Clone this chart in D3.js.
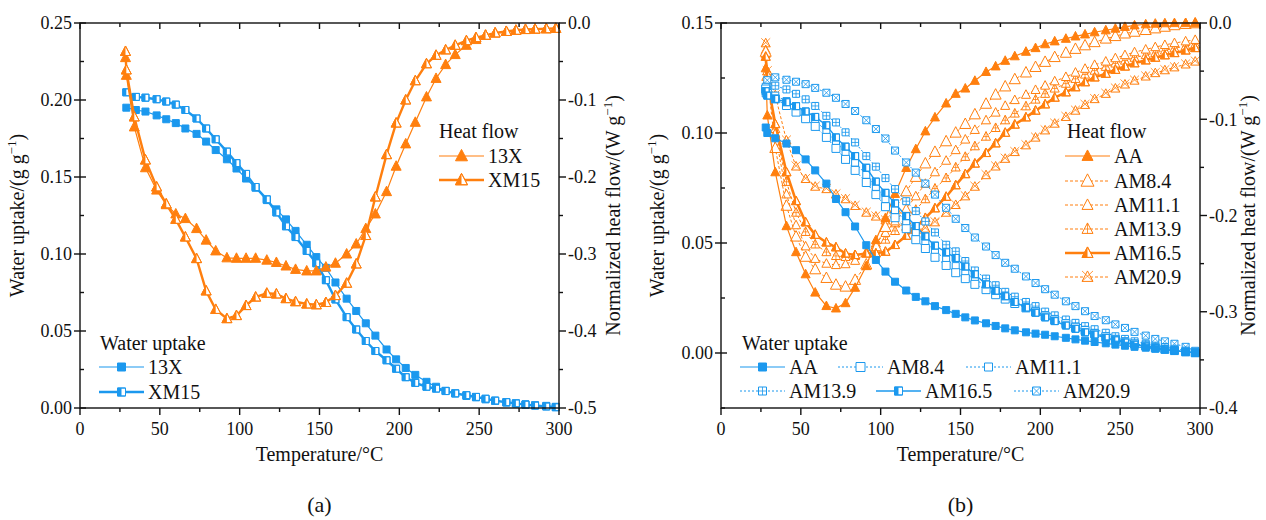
<!DOCTYPE html>
<html>
<head>
<meta charset="utf-8">
<script src="https://cdn.jsdelivr.net/npm/d3@7"></script>
<style>
  body { margin: 0; background: #fff; }
  svg, text { font-family: "Liberation Serif", "DejaVu Serif", serif; }
  text { fill: #111; }
</style>
</head>
<body>
<svg id="chart" width="1266" height="520" font-family="Liberation Serif, DejaVu Serif, serif"></svg>
<script>
// ---------- panel (a): 13X / XM15 ----------
var tempA = [29, 35, 41, 48, 54, 60, 66, 73, 79, 85, 92, 98, 104, 110, 117, 123, 129, 135, 142, 148, 154, 160, 167, 173, 179, 185, 192, 198, 204, 210, 217, 223, 229, 235, 242, 248, 254, 260, 267, 273, 279, 285, 292, 298];
var waterA_13X = [0.195, 0.1935, 0.1925, 0.190, 0.1875, 0.185, 0.1815, 0.178, 0.173, 0.1675, 0.1615, 0.1555, 0.149, 0.143, 0.135, 0.129, 0.1225, 0.115, 0.106, 0.098, 0.091, 0.0815, 0.071, 0.063, 0.055, 0.047, 0.038, 0.0316, 0.026, 0.0215, 0.017, 0.0138, 0.0112, 0.0095, 0.0078, 0.0069, 0.0056, 0.0046, 0.0035, 0.003, 0.0024, 0.0018, 0.0014, 0.0008];
var waterA_XM15 = [0.205, 0.202, 0.2015, 0.2005, 0.199, 0.197, 0.1935, 0.188, 0.1815, 0.1745, 0.1665, 0.159, 0.152, 0.1435, 0.1355, 0.127, 0.118, 0.111, 0.102, 0.094, 0.083, 0.0705, 0.059, 0.051, 0.0435, 0.037, 0.031, 0.0255, 0.020, 0.0163, 0.0138, 0.0126, 0.011, 0.0095, 0.0083, 0.0072, 0.006, 0.0048, 0.0038, 0.003, 0.0022, 0.0016, 0.001, 0.0005];

var tempAHeat = [28.5, 29, 34, 41, 48, 54, 60, 66, 73, 79, 85, 92, 98, 104, 110, 117, 123, 129, 135, 142, 148, 154, 160, 167, 173, 179, 185, 192, 198, 204, 210, 217, 223, 229, 235, 242, 248, 254, 260, 267, 273, 279, 285, 292, 298];
var heatA_13X = [-0.045, -0.068, -0.135, -0.188, -0.217, -0.236, -0.248, -0.254, -0.267, -0.282, -0.296, -0.305, -0.3056, -0.3056, -0.3056, -0.308, -0.311, -0.3156, -0.32, -0.322, -0.322, -0.317, -0.312, -0.300, -0.287, -0.267, -0.248, -0.219, -0.186, -0.157, -0.129, -0.096, -0.072, -0.054, -0.041, -0.029, -0.0215, -0.016, -0.013, -0.011, -0.0095, -0.0085, -0.008, -0.0075, -0.007];
var heatA_XM15 = [-0.037, -0.061, -0.122, -0.178, -0.213, -0.235, -0.255, -0.278, -0.306, -0.348, -0.372, -0.384, -0.380, -0.367, -0.356, -0.351, -0.352, -0.358, -0.362, -0.365, -0.366, -0.363, -0.354, -0.338, -0.313, -0.276, -0.226, -0.171, -0.130, -0.100, -0.075, -0.053, -0.042, -0.035, -0.029, -0.023, -0.019, -0.016, -0.013, -0.011, -0.0095, -0.0085, -0.008, -0.0075, -0.007];

// ---------- panel (b): AA / AM series ----------
var tempB = [28, 29, 34, 41, 47, 53, 59, 66, 72, 78, 84, 91, 97, 103, 109, 116, 122, 128, 134, 141, 147, 153, 159, 166, 172, 178, 184, 191, 197, 203, 209, 216, 222, 228, 234, 241, 247, 253, 259, 266, 272, 278, 284, 291, 297];
var waterB_AA = [0.1025, 0.100, 0.0976, 0.0952, 0.0922, 0.088, 0.083, 0.077, 0.070, 0.064, 0.0575, 0.049, 0.0423, 0.037, 0.0324, 0.0284, 0.0255, 0.0235, 0.0213, 0.0195, 0.0178, 0.0162, 0.0148, 0.0135, 0.0123, 0.0112, 0.0103, 0.0094, 0.0088, 0.0083, 0.0076, 0.0069, 0.0062, 0.0056, 0.005, 0.0044, 0.0038, 0.0033, 0.0028, 0.0024, 0.0019, 0.0015, 0.001, 0.0005, 0.0];
var waterB_AM84 = [0.12, 0.118, 0.1155, 0.1125, 0.1095, 0.1065, 0.103, 0.098, 0.093, 0.088, 0.083, 0.0775, 0.072, 0.0665, 0.0615, 0.0565, 0.0515, 0.0475, 0.0435, 0.0398, 0.0365, 0.0338, 0.0312, 0.0288, 0.0265, 0.0245, 0.0225, 0.0205, 0.0187, 0.0168, 0.015, 0.0133, 0.0117, 0.0102, 0.0088, 0.0074, 0.0062, 0.0051, 0.0041, 0.0032, 0.0024, 0.0017, 0.0011, 0.0005, 0.0001];
var waterB_AM111 = [0.121, 0.119, 0.117, 0.1145, 0.112, 0.109, 0.1055, 0.101, 0.096, 0.091, 0.0865, 0.081, 0.0755, 0.070, 0.065, 0.0595, 0.0548, 0.0505, 0.0463, 0.0425, 0.0395, 0.0365, 0.0335, 0.0305, 0.0278, 0.0255, 0.0232, 0.021, 0.019, 0.017, 0.0152, 0.0134, 0.0118, 0.0103, 0.009, 0.0076, 0.0064, 0.0053, 0.0043, 0.0034, 0.0026, 0.0019, 0.0012, 0.0006, 0.0002];
var waterB_AM139 = [0.118, 0.121, 0.1215, 0.1198, 0.1178, 0.1153, 0.1123, 0.1078, 0.1048, 0.1003, 0.0957, 0.0895, 0.0847, 0.0795, 0.0745, 0.069, 0.0645, 0.0598, 0.0548, 0.0492, 0.0462, 0.0418, 0.0375, 0.0338, 0.0308, 0.0278, 0.0256, 0.0232, 0.0213, 0.0188, 0.0171, 0.0152, 0.0137, 0.0122, 0.0108, 0.0092, 0.0076, 0.0064, 0.0053, 0.0042, 0.0033, 0.0027, 0.0019, 0.0011, 0.0005];
var waterB_AM165 = [0.119, 0.117, 0.1155, 0.114, 0.1122, 0.1098, 0.1073, 0.1035, 0.098, 0.0938, 0.0895, 0.0842, 0.0779, 0.0728, 0.068, 0.0622, 0.0577, 0.053, 0.0488, 0.0458, 0.0432, 0.0393, 0.0358, 0.0312, 0.0283, 0.0258, 0.0232, 0.0206, 0.0183, 0.0162, 0.0145, 0.0125, 0.011, 0.0094, 0.0084, 0.0069, 0.0058, 0.0048, 0.0038, 0.003, 0.0023, 0.0017, 0.0011, 0.0005, 0.0001];
var waterB_AM209 = [0.120, 0.124, 0.1253, 0.1242, 0.1233, 0.1222, 0.1205, 0.1183, 0.116, 0.1132, 0.110, 0.1058, 0.1018, 0.0975, 0.092, 0.0866, 0.082, 0.077, 0.072, 0.066, 0.061, 0.0568, 0.0525, 0.0484, 0.0445, 0.041, 0.0383, 0.0348, 0.0318, 0.029, 0.0265, 0.0235, 0.0213, 0.019, 0.0168, 0.0149, 0.013, 0.0114, 0.0096, 0.0079, 0.0064, 0.0053, 0.0042, 0.0028, 0.001];

var heatB_AA = [-0.047, -0.096, -0.155, -0.211, -0.238, -0.261, -0.28, -0.294, -0.2965, -0.291, -0.275, -0.2525, -0.2255, -0.2025, -0.1775, -0.1505, -0.131, -0.1125, -0.098, -0.0835, -0.0735, -0.068, -0.060, -0.0508, -0.045, -0.0392, -0.0345, -0.0298, -0.026, -0.022, -0.019, -0.0163, -0.0139, -0.0118, -0.0096, -0.0075, -0.0058, -0.004, -0.0024, -0.0013, -0.0006, -0.0002, 0, 0, 0];
var heatB_AM84 = [-0.03, -0.055, -0.13, -0.19, -0.222, -0.243, -0.256, -0.265, -0.272, -0.274, -0.267, -0.251, -0.232, -0.212, -0.193, -0.175, -0.16, -0.146, -0.134, -0.123, -0.114, -0.105, -0.095, -0.084, -0.0745, -0.066, -0.0585, -0.0515, -0.0458, -0.0405, -0.0355, -0.031, -0.027, -0.0233, -0.02, -0.0163, -0.0137, -0.011, -0.0092, -0.0074, -0.0057, -0.004, -0.0024, -0.0011, -0.0004];
var heatB_AM111 = [-0.028, -0.05, -0.115, -0.178, -0.21, -0.232, -0.245, -0.25, -0.2514, -0.2505, -0.247, -0.239, -0.229, -0.218, -0.206, -0.193, -0.18, -0.167, -0.155, -0.143, -0.132, -0.121, -0.111, -0.101, -0.093, -0.086, -0.08, -0.0745, -0.0695, -0.065, -0.0605, -0.056, -0.0515, -0.0475, -0.0435, -0.04, -0.0365, -0.0333, -0.0303, -0.0275, -0.025, -0.0228, -0.0208, -0.019, -0.0175];
var heatB_AM139 = [-0.032, -0.055, -0.11, -0.165, -0.197, -0.217, -0.23, -0.238, -0.242, -0.243, -0.242, -0.238, -0.233, -0.225, -0.216, -0.205, -0.194, -0.183, -0.172, -0.161, -0.15, -0.139, -0.128, -0.118, -0.109, -0.101, -0.094, -0.0865, -0.0795, -0.0735, -0.068, -0.063, -0.058, -0.0535, -0.0495, -0.0455, -0.042, -0.039, -0.036, -0.0333, -0.031, -0.0285, -0.0262, -0.024, -0.022];
var heatB_AM165 = [-0.035, -0.06, -0.105, -0.155, -0.185, -0.207, -0.22, -0.228, -0.233, -0.2395, -0.241, -0.2395, -0.2393, -0.2376, -0.2306, -0.221, -0.2125, -0.2025, -0.1925, -0.1805, -0.1685, -0.157, -0.146, -0.135, -0.125, -0.114, -0.1055, -0.098, -0.091, -0.0845, -0.0775, -0.072, -0.0667, -0.0615, -0.0565, -0.0527, -0.0486, -0.0452, -0.0418, -0.0388, -0.036, -0.0335, -0.0312, -0.0285, -0.026];
var heatB_AM209 = [-0.021, -0.05, -0.075, -0.122, -0.149, -0.162, -0.170, -0.1725, -0.178, -0.183, -0.190, -0.197, -0.201, -0.205, -0.208, -0.2115, -0.215, -0.2135, -0.207, -0.197, -0.189, -0.180, -0.170, -0.158, -0.149, -0.141, -0.134, -0.127, -0.119, -0.1115, -0.1045, -0.0975, -0.091, -0.085, -0.079, -0.0735, -0.068, -0.0638, -0.0598, -0.0555, -0.052, -0.049, -0.046, -0.043, -0.040];

// tick values
var xTicks = [0, 50, 100, 150, 200, 250, 300];
var leftTicksA = [0, 0.05, 0.10, 0.15, 0.20, 0.25];
var rightTicksA = [0, -0.1, -0.2, -0.3, -0.4, -0.5];
var leftTicksB = [0, 0.05, 0.10, 0.15];
var rightTicksB = [0, -0.1, -0.2, -0.3, -0.4];

const blue = "#1b98ee";
const orange = "#ff7f0e";
const serif = "Liberation Serif, DejaVu Serif, serif";

const svg = d3.select("#chart");

// draw one marker at (px,py)
function marker(g, px, py, shape, mode, size, color) {
  var s = size / 2;
  var m = g.append("g").attr("transform", "translate(" + px + "," + py + ")");
  var top, bot;
  var outline;
  if (shape === "square") {
    top = -s; bot = s;
    outline = "M" + (-s) + "," + (-s) + "H" + s + "V" + s + "H" + (-s) + "Z";
  } else {
    top = -s * 1.1; bot = s * 0.8;
    outline = "M0," + top + "L" + s + "," + bot + "L" + (-s) + "," + bot + "Z";
  }
  m.append("path").attr("d", outline)
    .attr("fill", mode === "filled" ? color : "#fff")
    .attr("stroke", color).attr("stroke-width", 1);
  if (mode === "half") {
    var halfPath = shape === "square"
      ? "M" + (-s) + "," + (-s) + "H0V" + s + "H" + (-s) + "Z"
      : "M0," + top + "L0," + bot + "L" + (-s) + "," + bot + "Z";
    m.append("path").attr("d", halfPath).attr("fill", color);
    m.append("path").attr("d", outline).attr("fill", "none").attr("stroke", color).attr("stroke-width", 1);
  }
  if (mode === "plus") {
    var hy = shape === "square" ? 0 : (top + bot) / 2 + s * 0.15;
    var hw = shape === "square" ? s : s * (hy - top) / (bot - top);
    m.append("path").attr("d", "M0," + top + "V" + bot + "M" + (-hw) + "," + hy + "H" + hw)
      .attr("stroke", color).attr("stroke-width", 0.8).attr("fill", "none");
  }
  if (mode === "cross") {
    m.append("path").attr("d", "M" + (-s) + "," + top + "L" + s + "," + bot + "M" + s + "," + top + "L" + (-s) + "," + bot)
      .attr("stroke", color).attr("stroke-width", 0.8).attr("fill", "none");
  }
}

function sampleLine(g, x1, x2, y, sr) {
  g.append("line").attr("x1", x1).attr("x2", x2).attr("y1", y).attr("y2", y)
    .attr("stroke", sr.color).attr("stroke-width", sr.width)
    .attr("stroke-dasharray", sr.dash || null);
  marker(g, (x1 + x2) / 2, y, sr.shape, sr.mode, sr.size + (sr.shape === "triangle" ? 2 : 1), sr.color);
}

function label(x, y, txt, size) {
  return svg.append("text").attr("x", x).attr("y", y)
    .attr("font-family", serif).attr("font-size", size).text(txt);
}

function drawPanel(p) {
  var x = d3.scaleLinear().domain([0, 300]).range([p.left, p.right]);
  var yL = d3.scaleLinear().domain(p.leftDomain).range([p.bottom, p.top]);
  var yR = d3.scaleLinear().domain(p.rightDomain).range([p.bottom, p.top]);
  var g = svg.append("g");

  // series: lines first, then markers
  p.series.forEach(function (sr) {
    var y = sr.axis === "L" ? yL : yR;
    var pts = sr.temps.map(function (t, i) { return [x(t), y(sr.values[i])]; });
    var sg = g.append("g");
    sg.append("path").attr("d", d3.line()(pts))
      .attr("fill", "none").attr("stroke", sr.color)
      .attr("stroke-width", sr.width).attr("stroke-dasharray", sr.dash || null);
    pts.forEach(function (pt) { marker(sg, pt[0], pt[1], sr.shape, sr.mode, sr.size, sr.color); });
  });

  var ax = svg.append("g").attr("stroke", "#111").attr("stroke-width", 1.4);
  // frame
  ax.append("rect").attr("x", p.left).attr("y", p.top)
    .attr("width", p.right - p.left).attr("height", p.bottom - p.top).attr("fill", "none");

  // x ticks (bottom outward, top inward)
  d3.range(0, 301, 25).forEach(function (v) {
    var major = v % 50 === 0;
    ax.append("line").attr("x1", x(v)).attr("x2", x(v))
      .attr("y1", p.bottom).attr("y2", p.bottom + (major ? 7 : 4));
    ax.append("line").attr("x1", x(v)).attr("x2", x(v))
      .attr("y1", p.top).attr("y2", p.top + (major ? 6 : 4));
  });
  xTicks.forEach(function (v) {
    label(x(v), p.bottom + 27, v, 18).attr("text-anchor", "middle");
  });

  // left axis ticks
  var lStep = 0.025;
  var lo = p.leftDomain[0], hi = p.leftDomain[1];
  for (var k = Math.round(lo / lStep); k <= Math.round(hi / lStep); k++) {
    var v = k * lStep;
    var major = k % 2 === 0;
    ax.append("line").attr("y1", yL(v)).attr("y2", yL(v))
      .attr("x1", p.left - (major ? 6 : 0)).attr("x2", p.left + (major ? 6 : 4));
  }
  p.leftTicks.forEach(function (v) {
    label(p.left - 8, yL(v), d3.format(".2f")(v), 18)
      .attr("dy", "0.35em").attr("text-anchor", "end");
  });

  // right axis ticks (outward)
  var rlo = p.rightDomain[0];
  for (var j = 0; j <= Math.round(-rlo / 0.05); j++) {
    var rv = -j * 0.05;
    ax.append("line").attr("y1", yR(rv)).attr("y2", yR(rv))
      .attr("x1", p.right).attr("x2", p.right + (j % 2 === 0 ? 7 : 4));
  }
  p.rightTicks.forEach(function (v) {
    label(p.right + 9, yR(v), v === 0 ? "0.0" : v.toFixed(1), 18).attr("dy", "0.35em");
  });

  // axis titles
  var cx = (p.left + p.right) / 2, cy = (p.top + p.bottom) / 2;
  label(cx, p.bottom + 53, "Temperature/\u00b0C", 20).attr("text-anchor", "middle");

  var lt = label(0, 0, null, 20)
    .attr("transform", "translate(" + p.leftTitleX + "," + cy + ") rotate(-90)")
    .attr("text-anchor", "middle");
  lt.append("tspan").text("Water uptake/(g g");
  lt.append("tspan").attr("dy", -8).attr("font-size", 13).text("\u22121");
  lt.append("tspan").attr("dy", 8).text(")");

  var rt = label(0, 0, null, 20)
    .attr("transform", "translate(" + p.rightTitleX + "," + cy + ") rotate(-90)")
    .attr("text-anchor", "middle");
  rt.append("tspan").text("Normalized heat flow/(W g");
  rt.append("tspan").attr("dy", -8).attr("font-size", 13).text("\u22121");
  rt.append("tspan").attr("dy", 8).text(")");

  label(cx, 512, p.tag, 22).attr("text-anchor", "middle");

  // legends
  p.legends.forEach(function (lg) {
    var gl = svg.append("g");
    label(lg.titleX, lg.titleY, lg.title, 20).attr("dy", "0.35em");
    lg.items.forEach(function (it) {
      sampleLine(gl, it.x, it.x + 45, it.y, it.series);
      label(it.x + 49, it.y, it.label, 20).attr("dy", "0.35em");
    });
  });
}

// ----- panel (a) -----
var sA = {
  w13X:  { temps: tempA, values: waterA_13X, axis: "L", shape: "square", mode: "filled", size: 7, width: 1.2, color: blue },
  wXM15: { temps: tempA, values: waterA_XM15, axis: "L", shape: "square", mode: "half", size: 7, width: 2.4, color: blue },
  h13X:  { temps: tempAHeat, values: heatA_13X, axis: "R", shape: "triangle", mode: "filled", size: 10, width: 1.2, color: orange },
  hXM15: { temps: tempAHeat, values: heatA_XM15, axis: "R", shape: "triangle", mode: "half", size: 10, width: 2.4, color: orange }
};
drawPanel({
  left: 80, right: 559, top: 23, bottom: 408,
  leftDomain: [0, 0.25], rightDomain: [-0.5, 0],
  leftTicks: leftTicksA, rightTicks: rightTicksA,
  leftTitleX: 24, rightTitleX: 620, tag: "(a)",
  series: [sA.w13X, sA.wXM15, sA.h13X, sA.hXM15],
  legends: [
    { title: "Heat flow", titleX: 439, titleY: 131, items: [
      { x: 439, y: 156, label: "13X", series: sA.h13X },
      { x: 439, y: 180, label: "XM15", series: sA.hXM15 } ] },
    { title: "Water uptake", titleX: 100, titleY: 343, items: [
      { x: 99, y: 367, label: "13X", series: sA.w13X },
      { x: 99, y: 392, label: "XM15", series: sA.wXM15 } ] }
  ]
});

// ----- panel (b) -----
var sB = {
  wAA:   { temps: tempB, values: waterB_AA, axis: "L", shape: "square", mode: "filled", size: 7, width: 1.2, color: blue },
  w84:   { temps: tempB, values: waterB_AM84, axis: "L", shape: "square", mode: "open", size: 8, width: 1, dash: "2,2", color: blue },
  w111:  { temps: tempB, values: waterB_AM111, axis: "L", shape: "square", mode: "open", size: 7, width: 1, dash: "2,2", color: blue },
  w139:  { temps: tempB, values: waterB_AM139, axis: "L", shape: "square", mode: "plus", size: 7, width: 1, dash: "2,2", color: blue },
  w165:  { temps: tempB, values: waterB_AM165, axis: "L", shape: "square", mode: "half", size: 7, width: 1.4, color: blue },
  w209:  { temps: tempB, values: waterB_AM209, axis: "L", shape: "square", mode: "cross", size: 7, width: 1, dash: "2,2", color: blue },
  hAA:   { temps: tempB, values: heatB_AA, axis: "R", shape: "triangle", mode: "filled", size: 9, width: 1.2, color: orange },
  h84:   { temps: tempB, values: heatB_AM84, axis: "R", shape: "triangle", mode: "open", size: 11, width: 1, dash: "3,2", color: orange },
  h111:  { temps: tempB, values: heatB_AM111, axis: "R", shape: "triangle", mode: "open", size: 9, width: 1, dash: "3,2", color: orange },
  h139:  { temps: tempB, values: heatB_AM139, axis: "R", shape: "triangle", mode: "plus", size: 9, width: 1, dash: "3,2", color: orange },
  h165:  { temps: tempB, values: heatB_AM165, axis: "R", shape: "triangle", mode: "half", size: 9, width: 2.6, color: orange },
  h209:  { temps: tempB, values: heatB_AM209, axis: "R", shape: "triangle", mode: "cross", size: 9, width: 1, dash: "3,2", color: orange }
};
drawPanel({
  left: 721, right: 1200, top: 23, bottom: 408,
  leftDomain: [-0.025, 0.15], rightDomain: [-0.4, 0],
  leftTicks: leftTicksB, rightTicks: rightTicksB,
  leftTitleX: 664, rightTitleX: 1255, tag: "(b)",
  series: [sB.h209, sB.h139, sB.h111, sB.h84, sB.h165, sB.hAA,
           sB.w209, sB.w139, sB.w111, sB.w84, sB.w165, sB.wAA],
  legends: [
    { title: "Heat flow", titleX: 1067, titleY: 131, items: [
      { x: 1065, y: 156, label: "AA", series: sB.hAA },
      { x: 1065, y: 181, label: "AM8.4", series: sB.h84 },
      { x: 1065, y: 205, label: "AM11.1", series: sB.h111 },
      { x: 1065, y: 229, label: "AM13.9", series: sB.h139 },
      { x: 1065, y: 253, label: "AM16.5", series: sB.h165 },
      { x: 1065, y: 277, label: "AM20.9", series: sB.h209 } ] },
    { title: "Water uptake", titleX: 742, titleY: 343, items: [
      { x: 740, y: 367, label: "AA", series: sB.wAA },
      { x: 838, y: 367, label: "AM8.4", series: sB.w84 },
      { x: 966, y: 367, label: "AM11.1", series: sB.w111 },
      { x: 740, y: 391, label: "AM13.9", series: sB.w139 },
      { x: 876, y: 391, label: "AM16.5", series: sB.w165 },
      { x: 1014, y: 391, label: "AM20.9", series: sB.w209 } ] }
  ]
});
</script>
</body>
</html>
